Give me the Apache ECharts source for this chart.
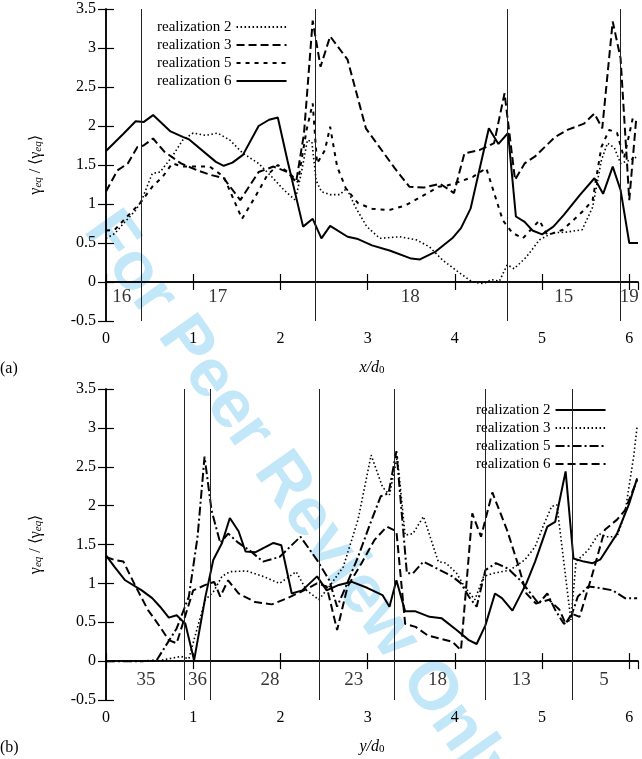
<!DOCTYPE html>
<html>
<head>
<meta charset="utf-8">
<script src="https://cdn.jsdelivr.net/npm/echarts@6/dist/echarts.min.js"></script>
<style>
  html, body { margin: 0; padding: 0; background: #fff; }
  #myChart { width: 642px; height: 759px; }
</style>
</head>
<body>
<div id="myChart"></div>
<script>
// ---- panel (a): gamma_eq along x ----
var a_real2 = [[0,0.56],[0.1,0.62],[0.2,0.75],[0.34,0.92],[0.41,1.05],[0.53,1.39],[0.62,1.41],[0.76,1.61],[0.88,1.82],[1.0,1.91],[1.14,1.88],[1.28,1.91],[1.42,1.82],[1.57,1.65],[1.75,1.52],[1.9,1.35],[2.04,1.18],[2.17,1.05],[2.24,1.4],[2.31,1.82],[2.36,1.8],[2.41,1.3],[2.47,1.16],[2.57,1.12],[2.68,1.12],[2.76,1.2],[2.86,0.96],[2.99,0.71],[3.14,0.56],[3.37,0.58],[3.56,0.54],[3.71,0.45],[3.86,0.28],[4.05,0.12],[4.2,0.0],[4.33,-0.02],[4.42,0.03],[4.51,0.01],[4.6,0.22],[4.68,0.17],[4.82,0.32],[4.97,0.54],[5.12,0.63],[5.28,0.64],[5.46,0.67],[5.58,0.96],[5.68,1.56],[5.75,1.78],[5.83,1.72],[5.9,1.52],[6.0,1.56],[6.08,1.6]];
var a_real3 = [[0,1.16],[0.13,1.43],[0.25,1.52],[0.36,1.73],[0.43,1.75],[0.54,1.84],[0.67,1.67],[0.86,1.52],[1.05,1.43],[1.21,1.37],[1.35,1.33],[1.54,1.05],[1.75,1.41],[1.92,1.48],[2.08,1.41],[2.18,1.28],[2.27,1.9],[2.37,3.35],[2.46,2.76],[2.57,3.15],[2.77,2.85],[2.98,1.97],[3.31,1.46],[3.48,1.22],[3.64,1.21],[3.83,1.26],[3.99,1.14],[4.11,1.65],[4.28,1.69],[4.45,1.78],[4.57,2.42],[4.69,1.31],[4.8,1.52],[4.92,1.61],[5.15,1.86],[5.29,1.95],[5.48,2.03],[5.6,2.16],[5.69,1.97],[5.81,3.34],[5.9,2.87],[6.0,1.05],[6.08,2.1]];
var a_real5 = [[0,0.66],[0.1,0.67],[0.2,0.79],[0.39,1.01],[0.53,1.22],[0.65,1.35],[0.76,1.52],[0.88,1.48],[1.05,1.48],[1.19,1.48],[1.35,1.35],[1.56,0.81],[1.71,1.09],[1.85,1.37],[1.97,1.5],[2.11,1.39],[2.2,1.28],[2.3,1.95],[2.37,2.29],[2.42,1.52],[2.51,1.69],[2.57,1.99],[2.65,1.48],[2.75,1.2],[2.89,1.01],[3.05,0.94],[3.24,0.92],[3.43,0.98],[3.64,1.11],[3.81,1.22],[3.92,1.24],[4.04,1.28],[4.21,1.35],[4.36,1.46],[4.55,0.79],[4.66,0.63],[4.78,0.56],[4.97,0.79],[5.06,0.6],[5.24,0.67],[5.48,0.92],[5.58,1.05],[5.68,1.73],[5.77,1.95],[5.86,1.91],[5.94,1.59],[6.04,2.1]];
var a_real6 = [[0,1.68],[0.2,1.9],[0.34,2.06],[0.43,2.05],[0.54,2.14],[0.74,1.93],[0.88,1.86],[0.95,1.83],[1.26,1.54],[1.35,1.49],[1.45,1.53],[1.57,1.63],[1.75,2.0],[1.87,2.08],[1.97,2.11],[2.08,1.56],[2.26,0.71],[2.37,0.81],[2.47,0.56],[2.57,0.72],[2.77,0.58],[2.89,0.55],[3.05,0.47],[3.26,0.4],[3.5,0.3],[3.6,0.29],[3.78,0.39],[3.97,0.56],[4.07,0.69],[4.18,0.94],[4.39,1.97],[4.5,1.77],[4.61,1.91],[4.7,0.84],[4.8,0.77],[4.89,0.66],[5.0,0.61],[5.13,0.71],[5.25,0.86],[5.43,1.11],[5.6,1.33],[5.7,1.13],[5.81,1.48],[5.9,1.18],[6.0,0.5],[6.1,0.5]];
var a_bounds = [0.4, 2.4, 4.6, 5.9];
var a_regionX = [0.18, 1.28, 3.49, 5.25, 6.0];
var a_regions = ['16', '17', '18', '15', '19'];

// ---- panel (b): gamma_eq along y ----
var b_real2 = [[0,1.36],[0.1,1.21],[0.22,1.04],[0.41,0.91],[0.53,0.81],[0.62,0.7],[0.72,0.56],[0.81,0.59],[0.91,0.48],[1.01,0.01],[1.14,0.83],[1.23,1.3],[1.33,1.52],[1.42,1.84],[1.52,1.67],[1.6,1.41],[1.71,1.4],[1.92,1.52],[2.01,1.49],[2.13,0.87],[2.25,0.91],[2.42,1.09],[2.53,0.91],[2.67,0.98],[2.82,1.02],[3.0,0.94],[3.17,0.85],[3.25,0.7],[3.33,1.04],[3.43,0.64],[3.55,0.64],[3.71,0.57],[3.85,0.55],[4.02,0.4],[4.16,0.27],[4.25,0.22],[4.35,0.46],[4.46,0.87],[4.54,0.81],[4.66,0.65],[4.82,1.0],[4.92,1.28],[5.06,1.73],[5.15,1.79],[5.27,2.44],[5.36,1.32],[5.48,1.28],[5.58,1.26],[5.67,1.31],[5.86,1.64],[6.0,2.03],[6.09,2.35]];
var b_real3 = [[0,0],[0.2,0],[0.39,0],[0.58,0],[0.72,0.03],[0.86,0.06],[0.95,0.03],[1.05,0.44],[1.14,0.79],[1.23,0.89],[1.33,1.09],[1.42,1.15],[1.61,1.16],[1.8,1.09],[1.99,1.0],[2.18,1.15],[2.3,0.91],[2.44,0.79],[2.56,0.96],[2.72,1.21],[2.89,1.82],[3.04,2.65],[3.17,2.24],[3.25,2.14],[3.34,2.63],[3.43,1.62],[3.52,1.64],[3.64,1.86],[3.81,1.28],[3.9,1.26],[4.02,1.13],[4.11,0.96],[4.23,0.79],[4.33,1.09],[4.44,1.13],[4.63,1.17],[4.8,1.3],[4.92,1.47],[5.01,1.73],[5.11,1.99],[5.17,2.01],[5.33,0.53],[5.39,1.28],[5.53,1.43],[5.65,1.64],[5.74,1.6],[5.86,1.6],[5.95,1.9],[6.05,2.63],[6.09,3.02]];
var b_real5 = [[0,0],[0.43,0],[0.58,0.01],[0.81,0.42],[0.95,0.83],[1.05,1.6],[1.13,2.63],[1.21,1.94],[1.31,1.52],[1.4,1.64],[1.52,1.52],[1.64,1.43],[1.8,1.28],[1.99,1.34],[2.23,1.6],[2.42,1.3],[2.56,1.04],[2.65,0.7],[2.75,0.96],[2.89,1.34],[3.03,1.77],[3.15,2.12],[3.24,2.16],[3.33,2.7],[3.45,1.13],[3.52,1.13],[3.64,1.28],[3.83,1.17],[3.97,1.09],[4.07,1.0],[4.16,0.83],[4.25,0.7],[4.35,1.17],[4.47,1.26],[4.61,1.19],[4.75,1.04],[4.87,0.87],[4.96,0.74],[5.06,0.87],[5.15,0.66],[5.25,0.48],[5.32,0.53],[5.41,0.83],[5.53,0.96],[5.67,0.94],[5.81,0.91],[5.95,0.81],[6.09,0.81]];
var b_real6 = [[0,1.34],[0.1,1.3],[0.2,1.28],[0.34,0.96],[0.48,0.66],[0.62,0.44],[0.72,0.27],[0.81,0.23],[0.88,0.48],[1.0,0.91],[1.14,0.98],[1.24,1.02],[1.31,0.83],[1.4,1.04],[1.52,0.87],[1.71,0.76],[1.9,0.73],[2.08,0.81],[2.27,0.91],[2.42,1.0],[2.53,0.96],[2.65,0.4],[2.77,0.96],[2.93,1.26],[3.08,1.56],[3.22,1.73],[3.33,1.67],[3.43,0.48],[3.55,0.44],[3.69,0.33],[3.83,0.29],[3.97,0.25],[4.07,0.14],[4.2,1.9],[4.3,1.6],[4.43,2.17],[4.6,1.68],[4.72,1.26],[4.82,0.87],[4.93,0.74],[5.08,0.79],[5.2,0.66],[5.27,0.48],[5.34,0.61],[5.43,0.57],[5.58,1.13],[5.72,1.69],[5.86,1.82],[5.95,1.94],[6.09,2.33]];
var b_bounds = [0.9, 1.2, 2.45, 3.3, 4.35, 5.35];
var b_regionX = [0.46, 1.05, 1.88, 2.84, 3.8, 4.76, 5.71];
var b_regions = ['35', '36', '28', '23', '18', '13', '5'];

var serif = 'Liberation Serif';
var black = '#000';

// 坐标轴: 下/左带刻度标签, 上/右只镜像刻度
function xAxes (grid, title) {
  var base = {
    type: 'value', gridIndex: grid, min: 0, max: 6.1, interval: 1,
    axisLine: { show: true, lineStyle: { color: black, width: 1.5 } },
    axisTick: { show: true, inside: true, length: 8, lineStyle: { color: black, width: 1.2 } },
    splitLine: { show: false }
  };
  return [
    Object.assign({}, base, {
      position: 'bottom',
      axisLabel: { showMaxLabel: false, margin: 10, fontSize: 16, fontFamily: serif, color: black },
      name: title, nameLocation: 'middle', nameGap: 38,
      nameTextStyle: {
        rich: {
          i: { fontFamily: serif, fontStyle: 'italic', fontSize: 16, color: black },
          s: { fontFamily: serif, fontSize: 11, color: black, verticalAlign: 'bottom', padding: [6, 0, 0, 0] }
        }
      }
    }),
    Object.assign({}, base, { position: 'top', axisLabel: { show: false } })
  ];
}

function yAxes (grid) {
  var base = {
    type: 'value', gridIndex: grid, min: -0.5, max: 3.5, interval: 0.5,
    axisLine: { show: true, lineStyle: { color: black, width: 1.5 } },
    axisTick: { show: true, inside: true, length: 8, lineStyle: { color: black, width: 1.2 } },
    splitLine: { show: false }
  };
  return [
    Object.assign({}, base, {
      position: 'left',
      axisLabel: { margin: 10, fontSize: 16, fontFamily: serif, color: black },
      name: '{g|γ}{s|eq}{g| / ⟨γ}{s|eq}{g|⟩}', nameLocation: 'middle', nameGap: 62, nameRotate: 90,
      nameTextStyle: {
        rich: {
          g: { fontFamily: serif, fontSize: 16, color: black },
          s: { fontFamily: serif, fontStyle: 'italic', fontSize: 11, color: black, verticalAlign: 'bottom', padding: [6, 0, 0, 0] }
        }
      }
    }),
    Object.assign({}, base, { position: 'right', axisLabel: { show: false } })
  ];
}

function curve (name, data, xi, yi, type, width) {
  return {
    name: name, type: 'line', data: data, xAxisIndex: xi, yAxisIndex: yi,
    symbol: 'none', silent: true,
    itemStyle: { color: black },
    lineStyle: { color: black, width: width, type: type }
  };
}

// 分区竖线 + 区域编号
function regions (xi, yi, bounds, xs, labels, ly) {
  return {
    type: 'scatter', xAxisIndex: xi, yAxisIndex: yi, symbolSize: 2, silent: true,
    itemStyle: { color: 'transparent' },
    data: xs.map(function (x, i) { return [x, ly, labels[i]]; }),
    label: {
      show: true, position: 'inside', fontFamily: serif, fontSize: 19, color: black,
      formatter: function (p) { return p.data[2]; }
    },
    markLine: {
      silent: true, symbol: 'none', animation: false,
      label: { show: false },
      lineStyle: { color: '#222', width: 1, type: 'solid' },
      data: bounds.map(function (b) { return { xAxis: b }; })
    }
  };
}

var DOT = [1.5, 2.5], LDASH = [8, 4], SDASH = [4, 5], DASHDOT = [9, 3, 2, 3];

function legendBox (left, top, names) {
  return {
    orient: 'vertical', left: left, top: top, align: 'right',
    itemWidth: 50, itemHeight: 10, itemGap: 0, selectedMode: false,
    itemStyle: { opacity: 0, color: 'transparent', borderWidth: 0 },
    textStyle: { fontFamily: serif, fontSize: 15, lineHeight: 18, color: black },
    data: names,
    formatter: function (n) { return n.slice(4); }
  };
}

var myChart = echarts.init(document.getElementById('myChart'), null, { renderer: 'canvas' });
window.addEventListener('resize', function () { myChart.resize(); });

myChart.setOption({
  animation: false,
  backgroundColor: '#fff',
  grid: [
    { left: 106, right: 4, top: 9, height: 312 },
    { left: 106, right: 4, top: 389, height: 311 }
  ],
  xAxis: xAxes(0, '{i|x/d}{s|0}').concat(xAxes(1, '{i|y/d}{s|0}')),
  yAxis: yAxes(0).concat(yAxes(1)),
  legend: [
    legendBox(152, 13, ['(a) realization 2', '(a) realization 3', '(a) realization 5', '(a) realization 6']),
    legendBox(471, 396, ['(b) realization 2', '(b) realization 3', '(b) realization 5', '(b) realization 6'])
  ],
  graphic: [
    {
      type: 'text', x: 300, y: 505, rotation: -0.955, z: -10, silent: true,
      style: {
        text: 'For Peer Review Only', x: 0, y: 0, align: 'center', verticalAlign: 'middle',
        fill: 'rgba(100, 195, 240, 0.4)', font: 'bold 68px "Liberation Sans"'
      }
    },
    { type: 'text', x: 0, y: 361, silent: true, style: { text: '(a)', fill: black, font: '16px "Liberation Serif"' } },
    { type: 'text', x: 0, y: 740, silent: true, style: { text: '(b)', fill: black, font: '16px "Liberation Serif"' } }
  ],
  series: [
    curve('(a) realization 2', a_real2, 0, 0, DOT, 1.6),
    curve('(a) realization 3', a_real3, 0, 0, LDASH, 2),
    curve('(a) realization 5', a_real5, 0, 0, SDASH, 2),
    curve('(a) realization 6', a_real6, 0, 0, 'solid', 2),
    regions(0, 0, a_bounds, a_regionX, a_regions, -0.19),

    curve('(b) realization 2', b_real2, 2, 2, 'solid', 2),
    curve('(b) realization 3', b_real3, 2, 2, DOT, 1.6),
    curve('(b) realization 5', b_real5, 2, 2, DASHDOT, 2),
    curve('(b) realization 6', b_real6, 2, 2, LDASH, 2),
    regions(2, 2, b_bounds, b_regionX, b_regions, -0.24)
  ]
});
</script>
</body>
</html>
